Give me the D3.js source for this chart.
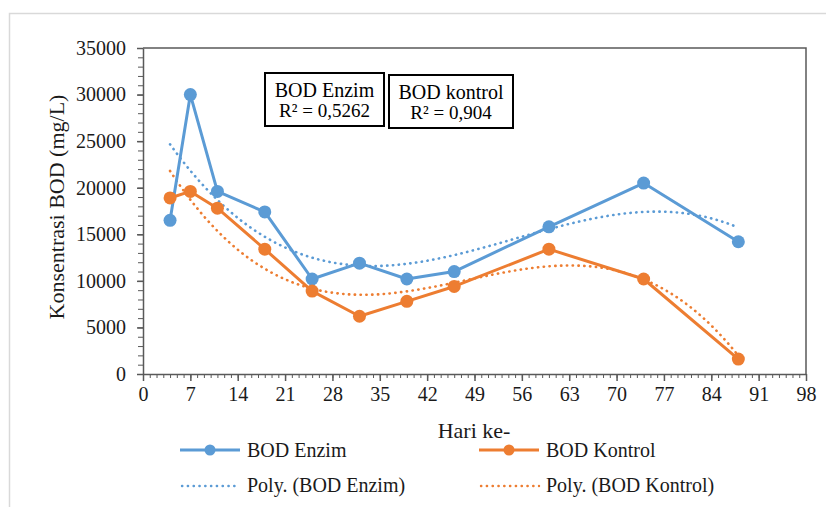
<!DOCTYPE html>
<html>
<head>
<meta charset="utf-8">
<script src="https://cdn.jsdelivr.net/npm/d3@7"></script>
<style>
  html, body { margin: 0; padding: 0; background: #fff; }
  svg text { font-family: "Liberation Serif", "Times New Roman", Times, serif !important; }
</style>
</head>
<body>
<svg id="chart"></svg>
<script>
// Data
const days = [4, 7, 11, 18, 25, 32, 39, 46, 60, 74, 88];
const bodEnzim = [16500, 30000, 19600, 17400, 10200, 11900, 10200, 11000, 15800, 20500, 14200];
const bodKontrol = [18900, 19600, 17800, 13400, 8900, 6200, 7800, 9400, 13400, 10200, 1600];
const seriesNames = ['BOD Enzim', 'BOD Kontrol'];
const trendNames = ['Poly. (BOD Enzim)', 'Poly. (BOD Kontrol)'];
const r2Labels = [['BOD Enzim', 'R² = 0,5262'], ['BOD kontrol', 'R² = 0,904']];
const xTicks = d3.range(0, 99, 7);
const yTicks = d3.range(0, 35001, 5000);

const W = 826, H = 507;
const PLOT = { left: 143, right: 806, top: 48, bottom: 374 };
const COLORS = ['#5b9bd5', '#ed7d31'];
const AXIS = '#595959';
const FONT = '"Liberation Serif", "Times New Roman", serif';

const svg = d3.select('#chart').attr('width', W).attr('height', H)
  .style('font-family', FONT);

// chart area border (light grey, runs off the right/bottom edge)
svg.append('rect')
  .attr('x', 9.5).attr('y', 13.5)
  .attr('width', W + 10).attr('height', H + 10)
  .attr('fill', '#fff').attr('stroke', '#d9d9d9').attr('stroke-width', 1.5);

const x = d3.scaleLinear().domain([0, 98]).range([PLOT.left, PLOT.right]);
const y = d3.scaleLinear().domain([0, 35000]).range([PLOT.bottom, PLOT.top]);

// minor ticks
svg.append('g')
  .attr('transform', `translate(0,${PLOT.bottom})`)
  .call(d3.axisBottom(x).tickValues(d3.range(0, 99, 1)).tickSize(4).tickFormat(''))
  .call(g => g.select('.domain').remove())
  .call(g => g.selectAll('line').attr('stroke', AXIS).attr('stroke-width', 1));

svg.append('g')
  .attr('transform', `translate(${PLOT.left},0)`)
  .call(d3.axisLeft(y).tickValues(d3.range(0, 35001, 1000)).tickSize(5).tickFormat(''))
  .call(g => g.select('.domain').remove())
  .call(g => g.selectAll('line').attr('stroke', AXIS).attr('stroke-width', 1));

// major axes
svg.append('g')
  .attr('transform', `translate(0,${PLOT.bottom})`)
  .call(d3.axisBottom(x).tickValues(xTicks).tickFormat(d3.format('d'))
    .tickSize(7).tickSizeOuter(0).tickPadding(6))
  .attr('font-family', FONT)
  .call(g => g.select('.domain').attr('stroke', AXIS).attr('stroke-width', 1.5))
  .call(g => g.selectAll('line').attr('stroke', AXIS).attr('stroke-width', 1.5))
  .call(g => g.selectAll('text').attr('font-size', 20).attr('fill', '#1a1a1a'));

svg.append('g')
  .attr('transform', `translate(${PLOT.left},0)`)
  .call(d3.axisLeft(y).tickValues(yTicks).tickFormat(d3.format('d'))
    .tickSize(6).tickSizeOuter(0).tickPadding(11))
  .attr('font-family', FONT)
  .call(g => g.select('.domain').attr('stroke', AXIS).attr('stroke-width', 1.5))
  .call(g => g.selectAll('line').attr('stroke', AXIS).attr('stroke-width', 1.5))
  .call(g => g.selectAll('text').attr('font-size', 20).attr('fill', '#1a1a1a'));

// top + right frame of the plot
svg.append('path')
  .attr('d', `M${PLOT.left},${PLOT.top}H${PLOT.right}V${PLOT.bottom}`)
  .attr('fill', 'none').attr('stroke', AXIS).attr('stroke-width', 1.5);

// polynomial (order 3) least squares fit, like Excel's trendline
function polyFit(xs, ys, order) {
  const n = order + 1;
  const A = d3.range(n).map(i => d3.range(n + 1).map(() => 0));
  xs.forEach((xv, k) => {
    for (let i = 0; i < n; i++) {
      for (let j = 0; j < n; j++) A[i][j] += Math.pow(xv, i + j);
      A[i][n] += ys[k] * Math.pow(xv, i);
    }
  });
  for (let c = 0; c < n; c++) {
    let p = c;
    for (let r = c + 1; r < n; r++) if (Math.abs(A[r][c]) > Math.abs(A[p][c])) p = r;
    [A[c], A[p]] = [A[p], A[c]];
    for (let r = 0; r < n; r++) {
      if (r === c) continue;
      const f = A[r][c] / A[c][c];
      for (let k = c; k <= n; k++) A[r][k] -= f * A[c][k];
    }
  }
  const coef = A.map((row, i) => row[n] / row[i]);
  return t => coef.reduce((s, a, i) => s + a * Math.pow(t, i), 0);
}

const series = [bodEnzim, bodKontrol];

// trendlines
series.forEach((vals, i) => {
  const f = polyFit(days, vals, 3);
  const pts = d3.range(days[0], days[days.length - 1] + 0.01, 0.5).map(t => [t, f(t)]);
  svg.append('path')
    .datum(pts)
    .attr('d', d3.line().x(d => x(d[0])).y(d => y(d[1])))
    .attr('fill', 'none')
    .attr('stroke', COLORS[i])
    .attr('stroke-width', 2.6)
    .attr('stroke-linecap', 'round')
    .attr('stroke-dasharray', '0.3 5.5');
});

// series lines + markers
series.forEach((vals, i) => {
  const pts = days.map((d, k) => [d, vals[k]]);
  svg.append('path')
    .datum(pts)
    .attr('d', d3.line().x(d => x(d[0])).y(d => y(d[1])))
    .attr('fill', 'none')
    .attr('stroke', COLORS[i])
    .attr('stroke-width', 3)
    .attr('stroke-linejoin', 'round');
  svg.append('g').selectAll('circle')
    .data(pts)
    .join('circle')
    .attr('cx', d => x(d[0]))
    .attr('cy', d => y(d[1]))
    .attr('r', 6.5)
    .attr('fill', COLORS[i]);
});

// R² boxes
const boxes = [
  { x: 265, y: 73, w: 119, h: 53 },
  { x: 389, y: 75, w: 124, h: 53 }
];
r2Labels.forEach((lines, i) => {
  const b = boxes[i];
  const g = svg.append('g');
  g.append('rect')
    .attr('x', b.x).attr('y', b.y).attr('width', b.w).attr('height', b.h)
    .attr('fill', '#fff').attr('stroke', '#000').attr('stroke-width', 2);
  g.append('text')
    .attr('x', b.x + b.w / 2).attr('y', b.y + 24)
    .attr('text-anchor', 'middle').attr('font-size', 20).attr('fill', '#000')
    .text(lines[0]);
  g.append('text')
    .attr('x', b.x + b.w / 2).attr('y', b.y + 44)
    .attr('text-anchor', 'middle').attr('font-size', 19).attr('fill', '#000')
    .text(lines[1]);
});

// axis titles
svg.append('text')
  .attr('transform', 'translate(64,207) rotate(-90)')
  .attr('text-anchor', 'middle')
  .attr('font-size', 22)
  .attr('fill', '#1a1a1a')
  .text('Konsentrasi BOD (mg/L)');

svg.append('text')
  .attr('x', 474).attr('y', 438)
  .attr('text-anchor', 'middle')
  .attr('font-size', 22)
  .attr('fill', '#1a1a1a')
  .text('Hari ke-');

// legend
const legendCols = [180, 479];
const legend = svg.append('g');
seriesNames.forEach((name, i) => {
  const lx = legendCols[i];
  legend.append('line')
    .attr('x1', lx).attr('x2', lx + 60).attr('y1', 450).attr('y2', 450)
    .attr('stroke', COLORS[i]).attr('stroke-width', 3);
  legend.append('circle')
    .attr('cx', lx + 30).attr('cy', 450).attr('r', 5.5).attr('fill', COLORS[i]);
  legend.append('text')
    .attr('x', lx + 67).attr('y', 457)
    .attr('font-size', 20)
    .attr('fill', '#1a1a1a')
    .text(name);
});
trendNames.forEach((name, i) => {
  const lx = legendCols[i];
  legend.append('line')
    .attr('x1', lx + 2).attr('x2', lx + 60).attr('y1', 486).attr('y2', 486)
    .attr('stroke', COLORS[i]).attr('stroke-width', 2.4)
    .attr('stroke-linecap', 'round').attr('stroke-dasharray', '0.3 5.5');
  legend.append('text')
    .attr('x', lx + 67).attr('y', 492)
    .attr('font-size', 20)
    .attr('fill', '#1a1a1a')
    .text(name);
});
</script>
</body>
</html>
